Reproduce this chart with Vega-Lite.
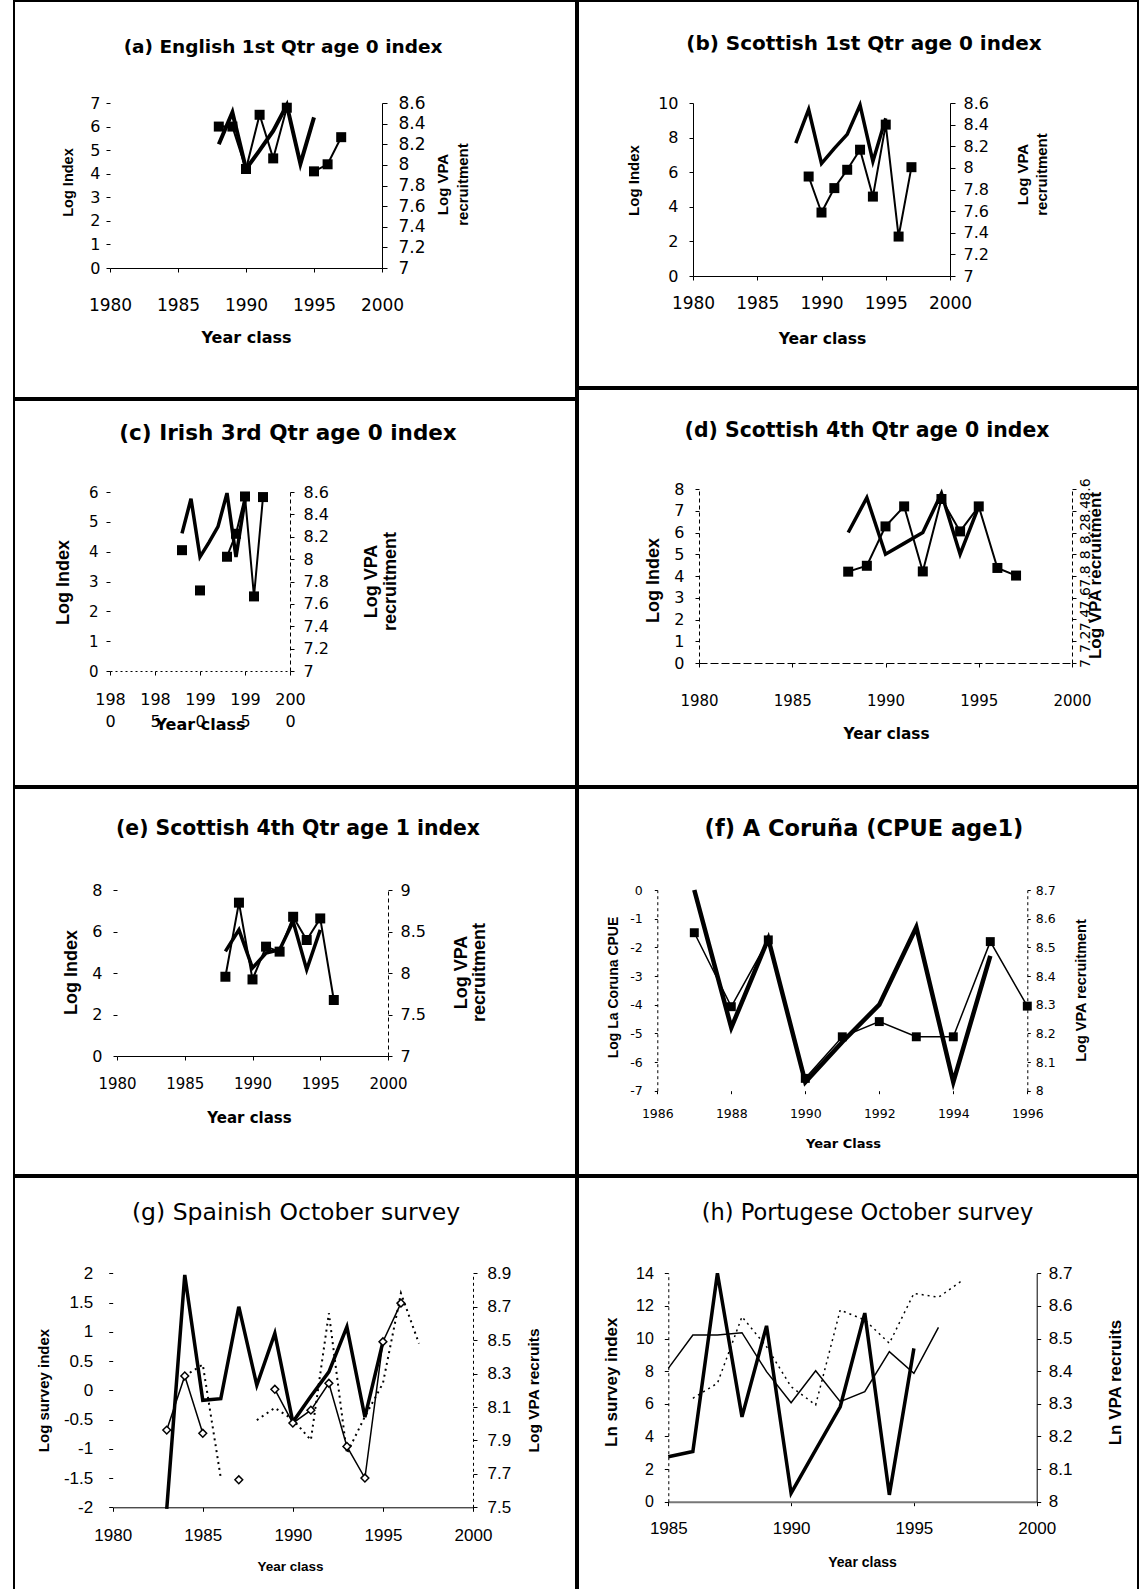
{
"$schema": "https://vega.github.io/schema/vega-lite/v6.json",
"background": "white",
"autosize": {"type": "pad"},
"padding": {"left": 13, "top": 0, "right": 0, "bottom": 0},
"config": {
  "view": {"stroke": "black", "strokeWidth": 2},
  "axis": {"grid": false, "labelFlush": false, "labelOverlap": false, "domainColor": "black", "tickColor": "black", "labelColor": "black", "titleColor": "black", "titleAlign": "center", "titleBaseline": "middle", "tickWidth": 1, "domainWidth": 1},
  "mark": {"invalid": "break-paths-filter-domains"},
  "title": {"color": "black"}
},
"datasets": {
  "a": [
    {"year": 1988, "idx": 6.0, "vpa": 8.2},
    {"year": 1989, "idx": 6.0, "vpa": 8.51},
    {"year": 1990, "idx": 4.2, "vpa": 7.96},
    {"year": 1991, "idx": 6.5, "vpa": 8.14},
    {"year": 1992, "idx": 4.65, "vpa": 8.33},
    {"year": 1993, "idx": 6.8, "vpa": 8.58},
    {"year": 1994, "idx": null, "vpa": 8.01},
    {"year": 1995, "idx": 4.1, "vpa": 8.46},
    {"year": 1996, "idx": 4.4, "vpa": null},
    {"year": 1997, "idx": 5.55, "vpa": null}
  ],
  "b": [
    {"year": 1988, "idx": null, "vpa": 8.23},
    {"year": 1989, "idx": 5.75, "vpa": 8.54},
    {"year": 1990, "idx": 3.67, "vpa": 8.04},
    {"year": 1991, "idx": 5.08, "vpa": 8.18},
    {"year": 1992, "idx": 6.14, "vpa": 8.31},
    {"year": 1993, "idx": 7.3, "vpa": 8.58},
    {"year": 1994, "idx": 4.59, "vpa": 8.06},
    {"year": 1995, "idx": 8.75, "vpa": 8.46},
    {"year": 1996, "idx": 2.28, "vpa": null},
    {"year": 1997, "idx": 6.29, "vpa": null}
  ],
  "c": [
    {"year": 1988, "idx": 4.05, "vpa": 8.23},
    {"year": 1989, "idx": null, "vpa": 8.54},
    {"year": 1990, "idx": 2.7, "vpa": 8.02},
    {"year": 1991, "idx": null, "vpa": 8.15},
    {"year": 1992, "idx": null, "vpa": 8.29},
    {"year": 1993, "idx": 3.83, "vpa": 8.59},
    {"year": 1994, "idx": 4.6, "vpa": 8.02},
    {"year": 1995, "idx": 5.85, "vpa": 8.53},
    {"year": 1996, "idx": 2.5, "vpa": null},
    {"year": 1997, "idx": 5.83, "vpa": null}
  ],
  "d": [
    {"year": 1988, "idx": 4.2, "vpa": 8.2},
    {"year": 1989, "idx": 4.47, "vpa": 8.52},
    {"year": 1990, "idx": 6.28, "vpa": 8.0},
    {"year": 1991, "idx": 7.2, "vpa": 8.1},
    {"year": 1992, "idx": 4.21, "vpa": 8.2},
    {"year": 1993, "idx": 7.54, "vpa": 8.56},
    {"year": 1994, "idx": 6.05, "vpa": 8.0},
    {"year": 1995, "idx": 7.2, "vpa": 8.44},
    {"year": 1996, "idx": 4.37, "vpa": null},
    {"year": 1997, "idx": 4.02, "vpa": null}
  ],
  "e": [
    {"year": 1988, "idx": 3.82, "vpa": 8.26},
    {"year": 1989, "idx": 7.39, "vpa": 8.52},
    {"year": 1990, "idx": 3.69, "vpa": 8.06},
    {"year": 1991, "idx": 5.27, "vpa": 8.24},
    {"year": 1992, "idx": 5.03, "vpa": 8.28},
    {"year": 1993, "idx": 6.71, "vpa": 8.62},
    {"year": 1994, "idx": 5.59, "vpa": 8.04},
    {"year": 1995, "idx": 6.63, "vpa": 8.52},
    {"year": 1996, "idx": 2.7, "vpa": null}
  ],
  "f": [
    {"year": 1987, "idx": -1.49, "vpa": 8.7},
    {"year": 1988, "idx": -4.07, "vpa": 8.22},
    {"year": 1989, "idx": -1.74, "vpa": 8.53},
    {"year": 1990, "idx": -6.57, "vpa": 8.03},
    {"year": 1991, "idx": -5.12, "vpa": 8.17},
    {"year": 1992, "idx": -4.59, "vpa": 8.3},
    {"year": 1993, "idx": -5.12, "vpa": 8.57},
    {"year": 1994, "idx": -5.12, "vpa": 8.03},
    {"year": 1995, "idx": -1.8, "vpa": 8.47},
    {"year": 1996, "idx": -4.05, "vpa": null}
  ],
  "g": [
    {"year": 1983, "idx": -0.68, "dot": null, "vpa": 7.49},
    {"year": 1984, "idx": 0.245, "dot": 0.245, "vpa": 8.89},
    {"year": 1985, "idx": -0.735, "dot": 0.44, "vpa": 8.14},
    {"year": 1986, "idx": null, "dot": -1.5, "vpa": 8.15},
    {"year": 1987, "idx": -1.53, "dot": null, "vpa": 8.7},
    {"year": 1988, "idx": null, "dot": -0.51, "vpa": 8.23},
    {"year": 1989, "idx": 0.017, "dot": -0.3, "vpa": 8.54},
    {"year": 1990, "idx": -0.56, "dot": -0.5, "vpa": 8.01},
    {"year": 1991, "idx": -0.34, "dot": -0.85, "vpa": 8.165},
    {"year": 1992, "idx": 0.12, "dot": 1.32, "vpa": 8.31},
    {"year": 1993, "idx": -0.96, "dot": -1.08, "vpa": 8.58},
    {"year": 1994, "idx": -1.5, "dot": -0.45, "vpa": 8.04},
    {"year": 1995, "idx": 0.83, "dot": 0.12, "vpa": 8.49},
    {"year": 1996, "idx": 1.49, "dot": 1.66, "vpa": null},
    {"year": 1997, "idx": null, "dot": 0.8, "vpa": null}
  ],
  "h": [
    {"year": 1985, "thin": 8.17, "dot": null, "vpa": 8.138},
    {"year": 1986, "thin": 10.22, "dot": 6.34, "vpa": 8.154},
    {"year": 1987, "thin": 10.22, "dot": 7.26, "vpa": 8.7},
    {"year": 1988, "thin": 10.36, "dot": 11.34, "vpa": 8.26},
    {"year": 1989, "thin": 7.97, "dot": 9.5, "vpa": 8.539},
    {"year": 1990, "thin": 6.07, "dot": 7.05, "vpa": 8.026},
    {"year": 1991, "thin": 8.03, "dot": 5.93, "vpa": 8.159},
    {"year": 1992, "thin": 6.13, "dot": 11.75, "vpa": 8.291},
    {"year": 1993, "thin": 6.74, "dot": 11.14, "vpa": 8.578},
    {"year": 1994, "thin": 9.2, "dot": 9.71, "vpa": 8.021},
    {"year": 1995, "thin": 7.87, "dot": 12.77, "vpa": 8.47},
    {"year": 1996, "thin": 10.69, "dot": 12.53, "vpa": null},
    {"year": 1997, "thin": null, "dot": 13.59, "vpa": null}
  ]
},
"spacing": 0,
"hconcat": [
 {"spacing": 0, "vconcat": [
  {
   "width": 562, "height": 397,
   "data": {"name": "a"},
   "title": {"text": "(a) English 1st Qtr age 0 index", "font": "DejaVu Sans", "fontSize": 18.5, "fontWeight": "bold", "anchor": "middle", "frame": "group", "offset": -55, "dx": -12},
   "encoding": {"x": {"field": "year", "type": "quantitative",
     "scale": {"domain": [1980, 2000], "range": [96, 368], "nice": false, "zero": false},
     "axis": {"orient": "bottom", "offset": -130, "values": [1980, 1985, 1990, 1995, 2000], "labelExpr": "'' + datum.value", "labelFont": "DejaVu Sans", "labelFontSize": 17, "labelBaseline": "middle", "labelPadding": 33, "tickSize": 4, "title": "Year class", "titleFont": "DejaVu Sans", "titleFontSize": 16, "titleFontWeight": "bold", "titleX": 232, "titleY": 69}}},
   "layer": [
    {"encoding": {"y": {"field": "vpa", "type": "quantitative",
       "scale": {"domain": [7, 8.6], "range": [267, 102], "nice": false, "zero": false},
       "axis": {"orient": "right", "offset": -194, "values": [7, 7.2, 7.4, 7.6, 7.8, 8, 8.2, 8.4, 8.6], "labelExpr": "'' + datum.value", "labelFont": "DejaVu Sans", "labelFontSize": 17, "labelPadding": 11, "tickSize": 5, "title": ["Log VPA", "recruitment"], "titleFont": "Liberation Sans", "titleFontSize": 15, "titleFontWeight": "bold", "titleAngle": 270, "titleLineHeight": 20, "titleX": 60, "titleY": 183}}},
     "layer": [{"mark": {"type": "line", "color": "black", "strokeWidth": 4}}]},
    {"encoding": {"y": {"field": "idx", "type": "quantitative",
       "scale": {"domain": [0, 7], "range": [267, 102], "nice": false, "zero": false},
       "axis": {"orient": "left", "offset": -96, "values": [0, 1, 2, 3, 4, 5, 6, 7], "labelExpr": "'' + datum.value", "labelFont": "DejaVu Sans", "labelFontSize": 16, "labelPadding": 6, "tickSize": 4, "domain": false, "title": "Log Index", "titleFont": "Liberation Sans", "titleFontSize": 14.5, "titleFontWeight": "bold", "titleAngle": 270, "titleX": -42, "titleY": 181}}},
     "layer": [
      {"mark": {"type": "line", "color": "black", "strokeWidth": 2}},
      {"mark": {"type": "point", "shape": "square", "filled": true, "color": "black", "size": 100, "opacity": 1}}
     ]}
   ],
   "resolve": {"scale": {"y": "independent"}}
  },
  {
   "width": 562, "height": 386,
   "data": {"name": "c"},
   "title": {"text": "(c) Irish 3rd Qtr age 0 index", "font": "DejaVu Sans", "fontSize": 21.5, "fontWeight": "bold", "anchor": "middle", "frame": "group", "offset": -44.5, "dx": -7},
   "encoding": {"x": {"field": "year", "type": "quantitative",
     "scale": {"domain": [1980, 2000], "range": [96, 276], "nice": false, "zero": false},
     "axis": {"orient": "bottom", "offset": -115, "values": [1980, 1985, 1990, 1995, 2000], "labelExpr": "[substring('' + datum.value, 0, 3), substring('' + datum.value, 3)]", "labelFont": "DejaVu Sans", "labelFontSize": 16, "labelBaseline": "top", "labelLineHeight": 22, "labelPadding": 16, "tickSize": 4, "domainDash": [2, 3], "title": "Year class", "titleFont": "DejaVu Sans", "titleFontSize": 16, "titleFontWeight": "bold", "titleX": 186, "titleY": 53}}},
   "layer": [
    {"encoding": {"y": {"field": "vpa", "type": "quantitative",
       "scale": {"domain": [7, 8.6], "range": [271, 92], "nice": false, "zero": false},
       "axis": {"orient": "right", "offset": -286, "values": [7, 7.2, 7.4, 7.6, 7.8, 8, 8.2, 8.4, 8.6], "labelExpr": "'' + datum.value", "labelFont": "DejaVu Sans", "labelFontSize": 16, "labelPadding": 9, "tickSize": 4, "domainDash": [4, 3], "title": ["Log VPA", "recruitment"], "titleFont": "Liberation Sans", "titleFontSize": 18, "titleFontWeight": "bold", "titleAngle": 270, "titleLineHeight": 19, "titleX": 81, "titleY": 181}}},
     "layer": [{"mark": {"type": "line", "color": "black", "strokeWidth": 3.5}}]},
    {"encoding": {"y": {"field": "idx", "type": "quantitative",
       "scale": {"domain": [0, 6], "range": [271, 92], "nice": false, "zero": false},
       "axis": {"orient": "left", "offset": -96, "values": [0, 1, 2, 3, 4, 5, 6], "labelExpr": "'' + datum.value", "labelFont": "DejaVu Sans", "labelFontSize": 15, "labelPadding": 8, "tickSize": 4, "domain": false, "title": "Log Index", "titleFont": "Liberation Sans", "titleFontSize": 18, "titleFontWeight": "bold", "titleAngle": 270, "titleX": -47, "titleY": 182}}},
     "layer": [
      {"mark": {"type": "line", "color": "black", "strokeWidth": 2}},
      {"mark": {"type": "point", "shape": "square", "filled": true, "color": "black", "size": 100, "opacity": 1}}
     ]}
   ],
   "resolve": {"scale": {"y": "independent"}}
  },
  {
   "width": 562, "height": 387,
   "data": {"name": "e"},
   "title": {"text": "(e) Scottish 4th Qtr age 1 index", "font": "DejaVu Sans", "fontSize": 20.4, "fontWeight": "bold", "anchor": "middle", "frame": "group", "offset": -51, "dx": 3},
   "encoding": {"x": {"field": "year", "type": "quantitative",
     "scale": {"domain": [1980, 2000], "range": [103, 374], "nice": false, "zero": false},
     "axis": {"orient": "bottom", "offset": -119, "values": [1980, 1985, 1990, 1995, 2000], "labelExpr": "'' + datum.value", "labelFont": "DejaVu Sans", "labelFontSize": 15, "labelBaseline": "middle", "labelPadding": 23, "tickSize": 4, "title": "Year class", "titleFont": "DejaVu Sans", "titleFontSize": 15, "titleFontWeight": "bold", "titleX": 235, "titleY": 61}}},
   "layer": [
    {"encoding": {"y": {"field": "vpa", "type": "quantitative",
       "scale": {"domain": [7, 9], "range": [268, 102], "nice": false, "zero": false},
       "axis": {"orient": "right", "offset": -188, "values": [7, 7.5, 8, 8.5, 9], "labelExpr": "'' + datum.value", "labelFont": "DejaVu Sans", "labelFontSize": 16, "labelPadding": 8, "tickSize": 4, "domainDash": [4, 3], "title": ["Log VPA", "recruitment"], "titleFont": "Liberation Sans", "titleFontSize": 18, "titleFontWeight": "bold", "titleAngle": 270, "titleLineHeight": 18.5, "titleX": 73, "titleY": 184}}},
     "layer": [{"mark": {"type": "line", "color": "black", "strokeWidth": 3.5}}]},
    {"encoding": {"y": {"field": "idx", "type": "quantitative",
       "scale": {"domain": [0, 8], "range": [268, 102], "nice": false, "zero": false},
       "axis": {"orient": "left", "offset": -103, "values": [0, 2, 4, 6, 8], "labelExpr": "'' + datum.value", "labelFont": "DejaVu Sans", "labelFontSize": 16, "labelPadding": 11, "tickSize": 4, "domain": false, "title": "Log Index", "titleFont": "Liberation Sans", "titleFontSize": 18, "titleFontWeight": "bold", "titleAngle": 270, "titleX": -46, "titleY": 184}}},
     "layer": [
      {"mark": {"type": "line", "color": "black", "strokeWidth": 2}},
      {"mark": {"type": "point", "shape": "square", "filled": true, "color": "black", "size": 100, "opacity": 1}}
     ]}
   ],
   "resolve": {"scale": {"y": "independent"}}
  },
  {
   "width": 562, "height": 420,
   "data": {"name": "g"},
   "title": {"text": "(g) Spainish October survey", "font": "DejaVu Sans", "fontSize": 23.5, "fontWeight": "normal", "anchor": "middle", "frame": "group", "offset": -47.75, "dx": 1},
   "encoding": {"x": {"field": "year", "type": "quantitative",
     "scale": {"domain": [1980, 2000], "range": [98.7, 459], "nice": false, "zero": false},
     "axis": {"orient": "bottom", "offset": -89.7, "values": [1980, 1985, 1990, 1995, 2000], "labelExpr": "'' + datum.value", "labelFont": "Liberation Sans", "labelFontSize": 17, "labelBaseline": "middle", "labelPadding": 23.7, "tickSize": 4, "title": "Year class", "titleFont": "Liberation Sans", "titleFontSize": 13.5, "titleFontWeight": "bold", "titleX": 276, "titleY": 58.7}}},
   "layer": [
    {"encoding": {"y": {"field": "vpa", "type": "quantitative",
       "scale": {"domain": [7.5, 8.9], "range": [330.3, 96.3], "nice": false, "zero": false},
       "axis": {"orient": "right", "offset": -103, "values": [7.5, 7.7, 7.9, 8.1, 8.3, 8.5, 8.7, 8.9], "labelExpr": "'' + datum.value", "labelFont": "Liberation Sans", "labelFontSize": 17, "labelPadding": 10, "tickSize": 4, "domainDash": [3, 3], "title": "Log VPA recruits", "titleFont": "Liberation Sans", "titleFontSize": 15.5, "titleFontWeight": "bold", "titleAngle": 270, "titleX": 60.3, "titleY": 213}}},
     "layer": [{"mark": {"type": "line", "color": "black", "strokeWidth": 3.5}}]},
    {"encoding": {"y": {"field": "idx", "type": "quantitative",
       "scale": {"domain": [-2, 2], "range": [330.3, 96.3], "nice": false, "zero": false},
       "axis": {"orient": "left", "offset": -98.7, "values": [-2, -1.5, -1, -0.5, 0, 0.5, 1, 1.5, 2], "labelExpr": "'' + datum.value", "labelFont": "Liberation Sans", "labelFontSize": 17, "labelPadding": 16, "tickSize": 4, "domain": false, "title": "Log survey index", "titleFont": "Liberation Sans", "titleFontSize": 15, "titleFontWeight": "bold", "titleAngle": 270, "titleX": -69.4, "titleY": 213}}},
     "layer": [
      {"mark": {"type": "line", "color": "black", "strokeWidth": 1.5}},
      {"encoding": {"y": {"field": "dot", "type": "quantitative",
         "scale": {"domain": [-2, 2], "range": [330.3, 96.3], "nice": false, "zero": false},
         "axis": {"orient": "left", "offset": -98.7, "values": [-2, -1.5, -1, -0.5, 0, 0.5, 1, 1.5, 2], "labelExpr": "'' + datum.value", "labelFont": "Liberation Sans", "labelFontSize": 17, "labelPadding": 16, "tickSize": 4, "domain": false, "title": "Log survey index", "titleFont": "Liberation Sans", "titleFontSize": 15, "titleFontWeight": "bold", "titleAngle": 270, "titleX": -69.4, "titleY": 213}}},
       "mark": {"type": "line", "color": "black", "strokeWidth": 2, "strokeDash": [2, 4]}},
      {"mark": {"type": "point", "shape": "diamond", "filled": true, "fill": "white", "stroke": "black", "strokeWidth": 1.5, "size": 60, "opacity": 1}}
     ]}
   ],
   "resolve": {"scale": {"y": "independent"}}
  }
 ]},
 {"spacing": 0, "vconcat": [
  {
   "width": 560, "height": 386,
   "data": {"name": "b"},
   "title": {"text": "(b) Scottish 1st Qtr age 0 index", "font": "DejaVu Sans", "fontSize": 20, "fontWeight": "bold", "anchor": "middle", "frame": "group", "offset": -53, "dx": 6},
   "encoding": {"x": {"field": "year", "type": "quantitative",
     "scale": {"domain": [1980, 2000], "range": [115, 372], "nice": false, "zero": false},
     "axis": {"orient": "bottom", "offset": -111, "values": [1980, 1985, 1990, 1995, 2000], "labelExpr": "'' + datum.value", "labelFont": "DejaVu Sans", "labelFontSize": 17, "labelBaseline": "middle", "labelPadding": 23, "tickSize": 4, "title": "Year class", "titleFont": "DejaVu Sans", "titleFontSize": 15.6, "titleFontWeight": "bold", "titleX": 244, "titleY": 62}}},
   "layer": [
    {"encoding": {"y": {"field": "vpa", "type": "quantitative",
       "scale": {"domain": [7, 8.6], "range": [275, 102], "nice": false, "zero": false},
       "axis": {"orient": "right", "offset": -188, "values": [7, 7.2, 7.4, 7.6, 7.8, 8, 8.2, 8.4, 8.6], "labelExpr": "'' + datum.value", "labelFont": "DejaVu Sans", "labelFontSize": 16, "labelPadding": 8, "tickSize": 5, "title": ["Log VPA", "recruitment"], "titleFont": "Liberation Sans", "titleFontSize": 15, "titleFontWeight": "bold", "titleAngle": 270, "titleLineHeight": 19, "titleX": 72, "titleY": 173}}},
     "layer": [{"mark": {"type": "line", "color": "black", "strokeWidth": 3.5}}]},
    {"encoding": {"y": {"field": "idx", "type": "quantitative",
       "scale": {"domain": [0, 10], "range": [275, 102], "nice": false, "zero": false},
       "axis": {"orient": "left", "offset": -115, "values": [0, 2, 4, 6, 8, 10], "labelExpr": "'' + datum.value", "labelFont": "DejaVu Sans", "labelFontSize": 16, "labelPadding": 11, "tickSize": 4, "title": "Log Index", "titleFont": "Liberation Sans", "titleFontSize": 15, "titleFontWeight": "bold", "titleAngle": 270, "titleX": -60, "titleY": 179}}},
     "layer": [
      {"mark": {"type": "line", "color": "black", "strokeWidth": 2}},
      {"mark": {"type": "point", "shape": "square", "filled": true, "color": "black", "size": 100, "opacity": 1}}
     ]}
   ],
   "resolve": {"scale": {"y": "independent"}}
  },
  {
   "width": 560, "height": 397,
   "data": {"name": "d"},
   "title": {"text": "(d) Scottish 4th Qtr age 0 index", "font": "DejaVu Sans", "fontSize": 20.4, "fontWeight": "bold", "anchor": "middle", "frame": "group", "offset": -52, "dx": 9},
   "encoding": {"x": {"field": "year", "type": "quantitative",
     "scale": {"domain": [1980, 2000], "range": [121, 494], "nice": false, "zero": false},
     "axis": {"orient": "bottom", "offset": -123, "values": [1980, 1985, 1990, 1995, 2000], "labelExpr": "'' + datum.value", "labelFont": "DejaVu Sans", "labelFontSize": 15, "labelBaseline": "middle", "labelPadding": 33, "tickSize": 4, "domainDash": [8, 3], "title": "Year class", "titleFont": "DejaVu Sans", "titleFontSize": 15.3, "titleFontWeight": "bold", "titleX": 308, "titleY": 70}}},
   "layer": [
    {"encoding": {"y": {"field": "vpa", "type": "quantitative",
       "scale": {"domain": [7, 8.6], "range": [274, 100], "nice": false, "zero": false},
       "axis": {"orient": "right", "offset": -66, "values": [7, 7.2, 7.4, 7.6, 7.8, 8, 8.2, 8.4, 8.6], "labelExpr": "'' + datum.value", "labelFont": "DejaVu Sans", "labelFontSize": 14, "labelAngle": 270, "labelAlign": "center", "labelBaseline": "top", "labelPadding": 2, "tickSize": 4, "domainDash": [4, 3], "title": "Log VPA recruitment", "titleFont": "Liberation Sans", "titleFontSize": 17, "titleFontWeight": "bold", "titleAngle": 270, "titleX": 23, "titleY": 186}}},
     "layer": [{"mark": {"type": "line", "color": "black", "strokeWidth": 3.5}}]},
    {"encoding": {"y": {"field": "idx", "type": "quantitative",
       "scale": {"domain": [0, 8], "range": [274, 100], "nice": false, "zero": false},
       "axis": {"orient": "left", "offset": -121, "values": [0, 1, 2, 3, 4, 5, 6, 7, 8], "labelExpr": "'' + datum.value", "labelFont": "DejaVu Sans", "labelFontSize": 16, "labelPadding": 11, "tickSize": 4, "domainDash": [4, 3], "title": "Log Index", "titleFont": "Liberation Sans", "titleFontSize": 18, "titleFontWeight": "bold", "titleAngle": 270, "titleX": -46, "titleY": 191}}},
     "layer": [
      {"mark": {"type": "line", "color": "black", "strokeWidth": 2}},
      {"mark": {"type": "point", "shape": "square", "filled": true, "color": "black", "size": 100, "opacity": 1}}
     ]}
   ],
   "resolve": {"scale": {"y": "independent"}}
  },
  {
   "width": 560, "height": 387,
   "data": {"name": "f"},
   "title": {"text": "(f) A Coruña (CPUE age1)", "font": "DejaVu Sans", "fontSize": 22.5, "fontWeight": "bold", "anchor": "middle", "frame": "group", "offset": -52.25, "dx": 6},
   "encoding": {"x": {"field": "year", "type": "quantitative",
     "scale": {"domain": [1986, 1996], "range": [79.3, 449.3], "nice": false, "zero": false},
     "axis": {"orient": "bottom", "offset": -84.3, "values": [1986, 1988, 1990, 1992, 1994, 1996], "labelExpr": "'' + datum.value", "labelFont": "DejaVu Sans", "labelFontSize": 12.5, "labelBaseline": "middle", "labelPadding": 20, "tickSize": 3, "domain": false, "title": "Year Class", "titleFont": "DejaVu Sans", "titleFontSize": 13, "titleFontWeight": "bold", "titleX": 265, "titleY": 52.6}}},
   "layer": [
    {"encoding": {"y": {"field": "vpa", "type": "quantitative",
       "scale": {"domain": [8, 8.7], "range": [302.7, 102], "nice": false, "zero": false},
       "axis": {"orient": "right", "offset": -110.7, "values": [8, 8.1, 8.2, 8.3, 8.4, 8.5, 8.6, 8.7], "labelExpr": "'' + datum.value", "labelFont": "DejaVu Sans", "labelFontSize": 12.5, "labelPadding": 5, "tickSize": 3, "domainDash": [3, 3], "title": "Log VPA recruitment", "titleFont": "Liberation Sans", "titleFontSize": 14.5, "titleFontWeight": "bold", "titleAngle": 270, "titleX": 54.4, "titleY": 202}}},
     "layer": [{"mark": {"type": "line", "color": "black", "strokeWidth": 4.5}}]},
    {"encoding": {"y": {"field": "idx", "type": "quantitative",
       "scale": {"domain": [-7, 0], "range": [302.7, 102], "nice": false, "zero": false},
       "axis": {"orient": "left", "offset": -79.3, "values": [-7, -6, -5, -4, -3, -2, -1, 0], "labelExpr": "'' + datum.value", "labelFont": "DejaVu Sans", "labelFontSize": 12.5, "labelPadding": 12, "tickSize": 3, "domainDash": [3, 3], "title": "Log La Coruna CPUE", "titleFont": "Liberation Sans", "titleFontSize": 14, "titleFontWeight": "bold", "titleAngle": 270, "titleX": -44, "titleY": 199}}},
     "layer": [
      {"mark": {"type": "line", "color": "black", "strokeWidth": 1.5}},
      {"mark": {"type": "point", "shape": "square", "filled": true, "color": "black", "size": 80, "opacity": 1}}
     ]}
   ],
   "resolve": {"scale": {"y": "independent"}}
  },
  {
   "width": 560, "height": 420,
   "data": {"name": "h"},
   "title": {"text": "(h) Portugese October survey", "font": "DejaVu Sans", "fontSize": 22.5, "fontWeight": "normal", "anchor": "middle", "frame": "group", "offset": -47.25, "dx": 9.5},
   "encoding": {"x": {"field": "year", "type": "quantitative",
     "scale": {"domain": [1985, 2000], "range": [90.3, 458.7], "nice": false, "zero": false},
     "axis": {"orient": "bottom", "offset": -95.3, "values": [1985, 1990, 1995, 2000], "labelExpr": "'' + datum.value", "labelFont": "Liberation Sans", "labelFontSize": 17, "labelBaseline": "middle", "labelPadding": 22.6, "tickSize": 4, "domainColor": "#777777", "domainWidth": 2, "title": "Year class", "titleFont": "Liberation Sans", "titleFontSize": 14, "titleFontWeight": "bold", "titleX": 284, "titleY": 60.3}}},
   "layer": [
    {"encoding": {"y": {"field": "vpa", "type": "quantitative",
       "scale": {"domain": [8, 8.7], "range": [324.7, 96.3], "nice": false, "zero": false},
       "axis": {"orient": "right", "offset": -101.3, "values": [8, 8.1, 8.2, 8.3, 8.4, 8.5, 8.6, 8.7], "labelExpr": "'' + datum.value", "labelFont": "Liberation Sans", "labelFontSize": 17, "labelPadding": 7.6, "tickSize": 4, "title": "Ln VPA recruits", "titleFont": "Liberation Sans", "titleFontSize": 17, "titleFontWeight": "bold", "titleAngle": 270, "titleX": 78.3, "titleY": 205}}},
     "layer": [{"mark": {"type": "line", "color": "black", "strokeWidth": 3.5}}]},
    {"encoding": {"y": {"field": "thin", "type": "quantitative",
       "scale": {"domain": [0, 14], "range": [324.7, 96.3], "nice": false, "zero": false},
       "axis": {"orient": "left", "offset": -90.3, "values": [0, 2, 4, 6, 8, 10, 12, 14], "labelExpr": "'' + datum.value", "labelFont": "Liberation Sans", "labelFontSize": 16, "labelPadding": 11, "tickSize": 4, "domainDash": [3, 3], "title": "Ln survey index", "titleFont": "Liberation Sans", "titleFontSize": 17, "titleFontWeight": "bold", "titleAngle": 270, "titleX": -56.6, "titleY": 204.7}}},
     "layer": [
      {"mark": {"type": "line", "color": "black", "strokeWidth": 1.5}},
      {"encoding": {"y": {"field": "dot", "type": "quantitative",
         "scale": {"domain": [0, 14], "range": [324.7, 96.3], "nice": false, "zero": false},
         "axis": {"orient": "left", "offset": -90.3, "values": [0, 2, 4, 6, 8, 10, 12, 14], "labelExpr": "'' + datum.value", "labelFont": "Liberation Sans", "labelFontSize": 16, "labelPadding": 11, "tickSize": 4, "domainDash": [3, 3], "title": "Ln survey index", "titleFont": "Liberation Sans", "titleFontSize": 17, "titleFontWeight": "bold", "titleAngle": 270, "titleX": -56.6, "titleY": 204.7}}},
       "mark": {"type": "line", "color": "black", "strokeWidth": 1.5, "strokeDash": [2, 4]}}
     ]}
   ],
   "resolve": {"scale": {"y": "independent"}}
  }
 ]}
]
}
